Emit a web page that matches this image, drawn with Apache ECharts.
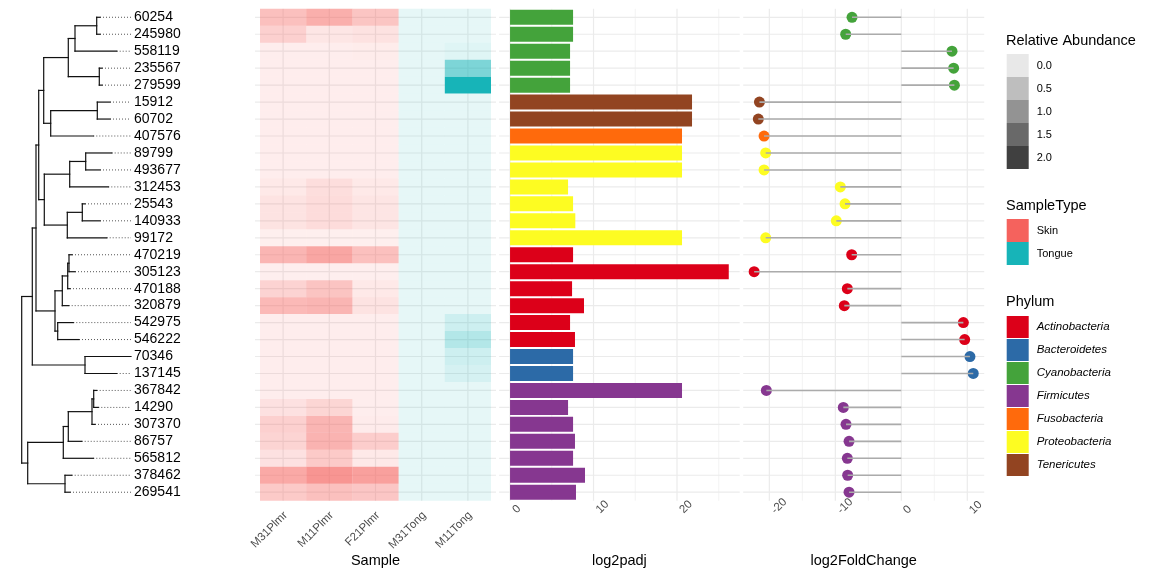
<!DOCTYPE html>
<html><head><meta charset="utf-8">
<script src="https://cdn.jsdelivr.net/npm/echarts@6/dist/echarts.min.js"></script>
<style>html,body{margin:0;padding:0;background:#fff}#c{width:1152px;height:576px}</style>
</head><body><div id="c"></div>
<script>
// ---------------- data ----------------
const leafNames = ['60254','245980','558119','235567','279599','15912','60702','407576','89799','493677','312453','25543','140933','99172','470219','305123','470188','320879','542975','546222','70346','137145','367842','14290','307370','86757','565812','378462','269541'];
const leafPhylum = ['Cyanobacteria','Cyanobacteria','Cyanobacteria','Cyanobacteria','Cyanobacteria','Tenericutes','Tenericutes','Fusobacteria','Proteobacteria','Proteobacteria','Proteobacteria','Proteobacteria','Proteobacteria','Proteobacteria','Actinobacteria','Actinobacteria','Actinobacteria','Actinobacteria','Actinobacteria','Actinobacteria','Bacteroidetes','Bacteroidetes','Firmicutes','Firmicutes','Firmicutes','Firmicutes','Firmicutes','Firmicutes','Firmicutes'];
// tree: tip depths (branch length from root) and nested internal nodes [depth, childA, childB]; leaves are row indices
const tipDepth = [78.3,78.3,95,80.3,80.3,88.3,88.3,71.6,90,78.3,86.6,63.3,78.3,85,50.3,53.3,48.3,47,51.6,57.3,109.3,95,75,76.6,73.3,60,71.6,50,48.3];
const treeMaxDepth = 109.3;
const tree = [0,
  [10.6,
    [14.3,
      [17,
        [22,
          [46.6, [53.3, [75, 0, 1], 2], [77.6, 3, 4]],
          [29, [75.6, 5, 6], 7]],
        [22.6,
          [48, [64, 8, 9], 10],
          [45.6, [60.6, 11, 12], 13]]],
      [33.3,
        [40.6, [46, [47.3, 14, 15], 16], 17],
        [36, 18, 19]]],
    [63.3, 20, 21]],
  [6,
    [41.6, [46.6, [70.3, [72, 22, 23], 24], 25], 26],
    [43.3, 27, 28]]];

const samples = ['M31Plmr','M11Plmr','F21Plmr','M31Tong','M11Tong'];
const sampleType = ['Skin','Skin','Skin','Tongue','Tongue'];
const abundM31Plmr = [0.67,0.44,0.03,0.03,0.03,0.03,0.03,0.03,0.03,0.03,0.09,0.18,0.18,0.00,0.82,0.01,0.40,0.76,0.03,0.03,0.03,0.03,0.03,0.20,0.44,0.39,0.20,1.00,0.53];
const abundM11Plmr = [0.91,0.13,0.03,0.03,0.03,0.03,0.03,0.03,0.03,0.03,0.24,0.27,0.27,0.00,1.04,0.01,0.61,0.82,0.03,0.03,0.03,0.03,0.03,0.36,0.82,0.85,0.53,1.28,0.67];
const abundF21Plmr = [0.60,0.19,0.05,0.03,0.03,0.03,0.03,0.03,0.03,0.03,0.09,0.15,0.15,0.00,0.67,0.01,0.09,0.18,0.03,0.03,0.03,0.03,0.03,0.03,0.06,0.48,0.09,1.12,0.58];
const abundM31Tong = [0.02,0.02,0.02,0.02,0.02,0.02,0.02,0.02,0.02,0.02,0.02,0.02,0.02,0.02,0.02,0.02,0.02,0.02,0.02,0.02,0.02,0.02,0.02,0.02,0.02,0.02,0.02,0.02,0.02];
const abundM11Tong = [0.02,0.02,0.08,1.02,2.00,0.02,0.02,0.02,0.02,0.02,0.02,0.02,0.02,0.02,0.02,0.02,0.02,0.02,0.26,0.50,0.26,0.18,0.02,0.02,0.02,0.02,0.02,0.02,0.02];

const log2padj = [7.55,7.55,7.19,7.19,7.19,21.8,21.8,20.6,20.6,20.6,6.95,7.55,7.82,20.6,7.55,26.2,7.43,8.86,7.19,7.78,7.55,7.55,20.6,6.95,7.55,7.78,7.55,8.98,7.9];
const log2FoldChange = [-7.47,-8.43,7.68,7.93,8.04,-21.5,-21.67,-20.8,-20.55,-20.8,-9.24,-8.53,-9.85,-20.55,-7.52,-22.3,-8.18,-8.64,9.4,9.6,10.4,10.9,-20.45,-8.79,-8.38,-7.92,-8.18,-8.13,-7.92];

const padjMajorTicks = [0,10,20];
const padjMinorTicks = [5,15,25];
const fcMajorTicks = [-20,-10,0,10];
const fcMinorTicks = [-15,-5,5];

const phylumNames = ['Actinobacteria','Bacteroidetes','Cyanobacteria','Firmicutes','Fusobacteria','Proteobacteria','Tenericutes'];
const phylumColors = ['#DC0019','#2C6AA7','#44A33B','#863790','#FF6A0C','#FDFC22','#924421'];
const typeNames = ['Skin','Tongue'];
const typeColors = ['#F5625D','#17B4B8'];
const abundLegendLabels = ['0.0','0.5','1.0','1.5','2.0'];
const abundLegendColors = ['#E8E8E8','#BEBEBE','#939393','#696969','#404040'];

// ---------------- helpers ----------------
const FONT = '"Liberation Sans", Arial, Helvetica, sans-serif';
const abund = [abundM31Plmr, abundM11Plmr, abundF21Plmr, abundM31Tong, abundM11Tong];
const phyColor = p => phylumColors[phylumNames.indexOf(p)];
function rgba(hex, a) {
  const r = parseInt(hex.slice(1,3),16), g = parseInt(hex.slice(3,5),16), b = parseInt(hex.slice(5,7),16);
  return 'rgba(' + r + ',' + g + ',' + b + ',' + a.toFixed(3) + ')';
}
const alphaOf = v => Math.min(1, 0.1 + 0.45 * v);

// tree segments
const treeSegs = [];
function layout(node) {
  if (typeof node === 'number') return { x: tipDepth[node], y: node };
  const a = layout(node[1]), b = layout(node[2]);
  const d = node[0];
  treeSegs.push([d, a.y, d, b.y]);
  treeSegs.push([d, a.y, a.x, a.y]);
  treeSegs.push([d, b.y, b.x, b.y]);
  return { x: d, y: (a.y + b.y) / 2 };
}
layout(tree);

const TOP = 8.8, H = 491.9;
const GRID = [
  { left: 21.7, top: TOP, width: 109.3, height: H },   // dendrogram
  { left: 260,  top: TOP, width: 231,   height: H },   // heatmap
  { left: 499.1,top: TOP, width: 240.6, height: H },   // log2padj bars
  { left: 743.2,top: TOP, width: 241,   height: H }    // log2FoldChange
];
const rowsCat = leafNames.map((n, i) => i);
const GRIDC = '#EBEBEB';

function hLines(gi, ext) {
  return { type: 'custom', xAxisIndex: gi, yAxisIndex: gi, clip: false, silent: true, z: 1,
    data: rowsCat.map(i => [0, i]),
    renderItem: (params, api) => {
      const cs = params.coordSys;
      const y = api.coord([api.value(0), api.value(1)])[1];
      return { type: 'line', shape: { x1: cs.x - ext, y1: y, x2: cs.x + cs.width + ext, y2: y },
        style: { stroke: GRIDC, lineWidth: 1.2 } };
    } };
}
function vLines(gi, ticks, w) {
  return { type: 'custom', xAxisIndex: gi, yAxisIndex: gi, clip: false, silent: true, z: 1,
    data: ticks.map(t => [t, 0]),
    renderItem: (params, api) => {
      const cs = params.coordSys;
      const x = api.coord([api.value(0), 0])[0];
      return { type: 'line', shape: { x1: x, y1: cs.y, x2: x, y2: cs.y + cs.height },
        style: { stroke: GRIDC, lineWidth: w } };
    } };
}
function tickLabels(gi, ticks, texts, dx, dy, align) {
  return { type: 'custom', xAxisIndex: gi, yAxisIndex: gi, clip: false, silent: true, z: 5,
    data: ticks.map((t, k) => [t, 0, k]),
    renderItem: (params, api) => {
      const cs = params.coordSys;
      const x = api.coord([api.value(0), 0])[0];
      return { type: 'text', x: x + dx, y: cs.y + cs.height + dy, rotation: Math.PI / 4,
        style: { text: texts[api.value(2)], fill: '#4D4D4D', font: '11.5px ' + FONT,
          align: align, verticalAlign: 'middle' } };
    } };
}

const series = [];
// ---- dendrogram ----
series.push({ type: 'custom', xAxisIndex: 0, yAxisIndex: 0, clip: false, silent: true, z: 3,
  data: leafNames.map((n, i) => [tipDepth[i], i]),
  renderItem: (params, api) => {
    const p1 = api.coord([api.value(0), api.value(1)]);
    const p2 = api.coord([treeMaxDepth, api.value(1)]);
    return { type: 'line', shape: { x1: p1[0], y1: p1[1], x2: p2[0], y2: p2[1] },
      style: { stroke: '#555', lineWidth: 1, lineDash: [1, 2] } };
  } });
series.push({ type: 'custom', xAxisIndex: 0, yAxisIndex: 0, clip: false, silent: true, z: 4,
  data: treeSegs,
  encode: { x: [0, 2], y: [1, 3] },
  renderItem: (params, api) => {
    const p1 = api.coord([api.value(0), api.value(1)]);
    const p2 = api.coord([api.value(2), api.value(3)]);
    return { type: 'line', shape: { x1: p1[0], y1: p1[1], x2: p2[0], y2: p2[1] },
      style: { stroke: '#111', lineWidth: 1.2, lineCap: 'square' } };
  } });
series.push({ type: 'custom', xAxisIndex: 0, yAxisIndex: 0, clip: false, silent: true, z: 4,
  data: leafNames.map((n, i) => [treeMaxDepth, i]),
  renderItem: (params, api) => {
    const p = api.coord([api.value(0), api.value(1)]);
    return { type: 'text', x: p[0] + 3, y: p[1],
      style: { text: leafNames[params.dataIndex], fill: '#000', font: '14px ' + FONT,
        align: 'left', verticalAlign: 'middle' } };
  } });

// ---- heatmap ----
series.push(hLines(1, 5));
series.push(vLines(1, samples.map((s, i) => i), 1.2));
const heatData = [];
samples.forEach((s, c) => abund[c].forEach((v, r) => heatData.push([c, r, v])));
series.push({ type: 'custom', xAxisIndex: 1, yAxisIndex: 1, silent: true, z: 2,
  data: heatData,
  renderItem: (params, api) => {
    const c = api.value(0), r = api.value(1), v = api.value(2);
    const p = api.coord([c, r]);
    const sz = api.size([1, 1]);
    const base = typeColors[typeNames.indexOf(sampleType[c])];
    return { type: 'rect', shape: { x: p[0] - sz[0] / 2, y: p[1] - sz[1] / 2, width: sz[0], height: sz[1] },
      style: { fill: rgba(base, alphaOf(v)) } };
  } });
series.push(tickLabels(1, samples.map((s, i) => i), samples, 2.5, 12.8, 'right'));

// ---- log2padj bars ----
series.push(hLines(2, 0));
series.push(vLines(2, padjMinorTicks, 0.6));
series.push(vLines(2, padjMajorTicks, 1.2));
series.push({ type: 'bar', xAxisIndex: 2, yAxisIndex: 2, barWidth: 15, z: 2, silent: true,
  data: log2padj.map((v, i) => ({ value: v, itemStyle: { color: phyColor(leafPhylum[i]) } })) });
series.push(tickLabels(2, padjMajorTicks, padjMajorTicks.map(String), 4.5, 10.8, 'left'));

// ---- log2FoldChange lollipop ----
series.push(hLines(3, 0));
series.push(vLines(3, fcMinorTicks, 0.6));
series.push(vLines(3, fcMajorTicks, 1.2));
series.push({ type: 'scatter', xAxisIndex: 3, yAxisIndex: 3, symbolSize: 11, z: 2, silent: true,
  data: log2FoldChange.map((v, i) => ({ value: [v, i], itemStyle: { color: phyColor(leafPhylum[i]), opacity: 1 } })) });
series.push({ type: 'custom', xAxisIndex: 3, yAxisIndex: 3, silent: true, z: 3,
  data: log2FoldChange.map((v, i) => [v, i]),
  renderItem: (params, api) => {
    const p1 = api.coord([0, api.value(1)]);
    const p2 = api.coord([api.value(0), api.value(1)]);
    return { type: 'line', shape: { x1: p1[0], y1: p1[1], x2: p2[0], y2: p2[1] },
      style: { stroke: '#ABABAB', lineWidth: 1.6 } };
  } });
series.push(tickLabels(3, fcMajorTicks, fcMajorTicks.map(String), 4, 11.3, 'left'));

// ---------------- axes ----------------
const xAxis = [
  { gridIndex: 0, type: 'value', min: 0, max: treeMaxDepth, show: false },
  { gridIndex: 1, type: 'category', data: samples, show: false },
  { gridIndex: 2, type: 'value', min: -1.31, max: 27.51, show: false },
  { gridIndex: 3, type: 'value', min: -23.96, max: 12.56, show: false }
];
const yAxis = [
  { gridIndex: 0, type: 'value', min: -0.5, max: 28.5, inverse: true, show: false },
  { gridIndex: 1, type: 'category', data: leafNames, inverse: true, show: false },
  { gridIndex: 2, type: 'category', data: leafNames, inverse: true, show: false },
  { gridIndex: 3, type: 'category', data: leafNames, inverse: true, show: false }
];

// ---------------- titles & legends (graphic) ----------------
const graphic = [];
function txt(x, y, s, size, opts) {
  graphic.push(Object.assign({ type: 'text', x: x, y: y, silent: true,
    style: { text: s, fill: '#000', font: size + 'px ' + FONT, align: 'left', verticalAlign: 'middle' } }, opts || {}));
}
const titleY = 561;
[[GRID[1], 'Sample'], [GRID[2], 'log2padj'], [GRID[3], 'log2FoldChange']].forEach(([g, s]) => {
  graphic.push({ type: 'text', x: g.left + g.width / 2, y: titleY, silent: true,
    style: { text: s, fill: '#000', font: '14.5px ' + FONT, align: 'center', verticalAlign: 'middle' } });
});
const LX = 1006.7, KW = 22, LTX = 1036.7;
txt(1006, 40.5, 'Relative Abundance', 14.5);
abundLegendLabels.forEach((l, k) => {
  const y0 = 54 + k * 23;
  graphic.push({ type: 'rect', silent: true, shape: { x: LX, y: y0, width: KW, height: 23 }, style: { fill: abundLegendColors[k] } });
  txt(LTX, y0 + 11.5, l, 11);
});
txt(1006, 205.5, 'SampleType', 14.5);
typeNames.forEach((l, k) => {
  const y0 = 219 + k * 23;
  graphic.push({ type: 'rect', silent: true, shape: { x: LX, y: y0, width: KW, height: 23 }, style: { fill: typeColors[k] } });
  txt(LTX, y0 + 11.5, l, 11);
});
txt(1006, 302, 'Phylum', 14.5);
phylumNames.forEach((l, k) => {
  const y0 = 316 + k * 23;
  graphic.push({ type: 'rect', silent: true, shape: { x: LX, y: y0, width: KW, height: 22 }, style: { fill: phylumColors[k] } });
  graphic.push({ type: 'text', x: LTX, y: y0 + 11, silent: true,
    style: { text: l, fill: '#000', font: 'italic 11.5px ' + FONT, align: 'left', verticalAlign: 'middle' } });
});

const chart = echarts.init(document.getElementById('c'), null, { renderer: 'canvas' });
chart.setOption({
  backgroundColor: '#fff',
  animation: false,
  grid: GRID,
  xAxis: xAxis,
  yAxis: yAxis,
  series: series,
  graphic: graphic
});
</script></body></html>
